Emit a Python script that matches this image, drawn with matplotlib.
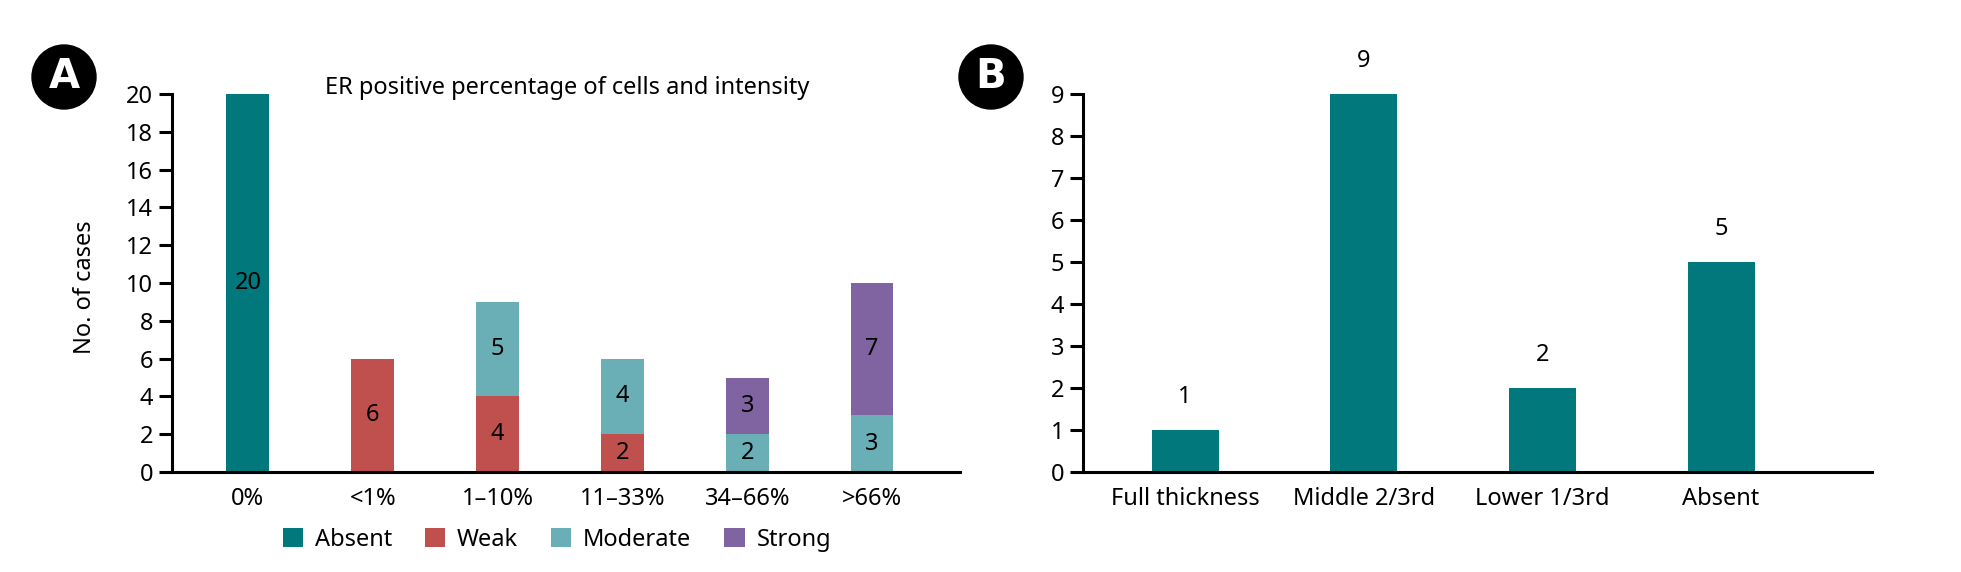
import matplotlib
matplotlib.use("Agg")
import matplotlib.pyplot as plt
from matplotlib.patches import Circle
import numpy as np

plt.rcParams["font.family"] = ["Noto Sans", "DejaVu Sans"]

# Panel A: ER positive percentage of cells and intensity
pct_groups = ["0%", "<1%", "1–10%", "11–33%", "34–66%", ">66%"]
intensity = ["Absent", "Weak", "Moderate", "Strong"]
absent = [20, 0, 0, 0, 0, 0]
weak = [0, 6, 4, 2, 0, 0]
moderate = [0, 0, 5, 4, 2, 3]
strong = [0, 0, 0, 0, 3, 7]

# Panel B
layers = ["Full thickness", "Middle 2/3rd", "Lower 1/3rd", "Absent"]
layer_counts = [1, 9, 2, 5]

colors = {
    "Absent": "#00787C",
    "Weak": "#C0504D",
    "Moderate": "#69AFB5",
    "Strong": "#8064A2",
}

FS = 17

fig = plt.figure(figsize=(19.61, 5.72), dpi=100)
axA = fig.add_axes([0.0877, 0.1748, 0.4018, 0.6608])
axB = fig.add_axes([0.5523, 0.1748, 0.4023, 0.6608])


def style_axis(ax):
    for side in ["top", "right"]:
        ax.spines[side].set_visible(False)
    for side in ["left", "bottom"]:
        ax.spines[side].set_linewidth(2.2)
    ax.tick_params(axis="y", length=9.5, width=2.2, labelsize=FS, pad=4)
    ax.tick_params(axis="x", length=0, labelsize=FS, pad=11)


# ---- panel A ----
x = np.arange(len(pct_groups))
bottom = np.zeros(len(pct_groups))
for name, vals in zip(intensity, [absent, weak, moderate, strong]):
    vals = np.array(vals, dtype=float)
    axA.bar(x, vals, width=0.344, bottom=bottom, color=colors[name],
            label=name, zorder=2)
    for xi, b, v in zip(x, bottom, vals):
        if v > 0:
            axA.text(xi, b + v / 2, f"{int(v)}", ha="center", va="center",
                     fontsize=FS, color="black", zorder=3)
    bottom += vals

axA.set_xlim(-0.608, 5.704)
axA.set_ylim(0, 20)
axA.set_yticks(np.arange(0, 21, 2))
axA.set_xticks(x)
axA.set_xticklabels(pct_groups)
axA.set_ylabel("No. of cases", fontsize=FS)
axA.yaxis.set_label_coords(-0.095, 0.49)
style_axis(axA)
fig.text(567 / 1961, 1 - 88 / 572, "ER positive percentage of cells and intensity",
         ha="center", va="center", fontsize=FS)

fig.legend(loc="center", bbox_to_anchor=(557 / 1961, 1 - 540 / 572), ncol=4,
           frameon=False, fontsize=FS, handlelength=0.85, handleheight=0.85,
           handletextpad=0.5, columnspacing=1.4)

# ---- panel B ----
xb = np.arange(len(layers))
axB.bar(xb, layer_counts, width=0.375, color=colors["Absent"], zorder=2)
for xi, v in zip(xb, layer_counts):
    axB.annotate(f"{v}", (xi, v), xytext=(0, 24), textcoords="offset points",
                 ha="center", va="center", fontsize=FS)
axB.set_xlim(-0.571, 3.845)
axB.set_ylim(0, 9)
axB.set_yticks(np.arange(0, 10, 1))
axB.set_xticks(xb)
axB.set_xticklabels(layers)
style_axis(axB)

# panel letters
for cx, letter in [(64, "A"), (991, "B")]:
    fx, fy = cx / 1961, 1 - 77 / 572
    circ = Circle((cx, 572 - 77), 32, transform=None, color="black", zorder=5)
    fig.patches.append(circ)
    fig.text(fx, fy, letter, ha="center", va="center", color="white",
             fontsize=29, fontweight="bold", family="DejaVu Sans", zorder=6)

fig.savefig("out.png", dpi=100)
